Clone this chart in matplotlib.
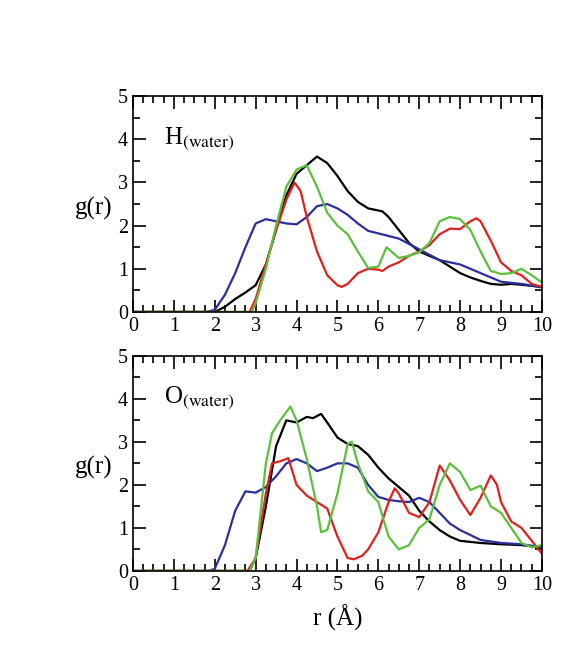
import numpy as np
import matplotlib
matplotlib.use("Agg")
import matplotlib.pyplot as plt
from matplotlib.ticker import MultipleLocator

plt.rcParams['font.family'] = ['Liberation Serif', 'DejaVu Serif']
plt.rcParams['mathtext.fontset'] = 'stix'

# --- H(water) panel ---
h_black_r = [0, 2.0, 2.25, 2.5, 2.75, 3.0, 3.25, 3.5, 3.75, 4.0, 4.25, 4.5, 4.75, 5.0, 5.25, 5.5,
             5.75, 6.0, 6.1, 6.25, 6.5, 6.75, 7.0, 7.25, 7.5, 7.75, 8.0, 8.25, 8.5, 8.75, 9.0, 9.25, 9.5, 10]
h_black_g = [0, 0, 0.12, 0.3, 0.45, 0.62, 1.1, 1.9, 2.7, 3.2, 3.4, 3.6, 3.45, 3.15, 2.8, 2.55,
             2.4, 2.35, 2.33, 2.2, 1.9, 1.6, 1.4, 1.3, 1.2, 1.05, 0.9, 0.8, 0.72, 0.65, 0.63, 0.65, 0.63, 0.58]

h_blue_r = [0, 1.8, 2.0, 2.25, 2.5, 2.75, 3.0, 3.25, 3.5, 3.75, 4.0, 4.25, 4.5, 4.75, 5.0, 5.25,
            5.5, 5.75, 6.0, 6.5, 7.0, 7.5, 8.0, 8.5, 9.0, 9.5, 10]
h_blue_g = [0, 0, 0.05, 0.4, 0.9, 1.5, 2.05, 2.15, 2.1, 2.05, 2.03, 2.2, 2.45, 2.5, 2.4, 2.25,
            2.05, 1.88, 1.82, 1.7, 1.45, 1.2, 1.1, 0.9, 0.7, 0.65, 0.57]

h_red_r = [0, 2.85, 3.0, 3.25, 3.5, 3.75, 3.95, 4.1, 4.25, 4.5, 4.75, 5.0, 5.1, 5.25, 5.5, 5.75,
           6.0, 6.1, 6.25, 6.5, 6.75, 7.0, 7.25, 7.5, 7.75, 8.0, 8.25, 8.4, 8.5, 8.75, 9.0, 9.25,
           9.5, 9.75, 10]
h_red_g = [0, 0, 0.3, 1.1, 1.9, 2.6, 3.0, 2.8, 2.2, 1.4, 0.85, 0.62, 0.58, 0.65, 0.9, 1.0,
           0.98, 0.95, 1.05, 1.15, 1.3, 1.4, 1.55, 1.8, 1.93, 1.92, 2.1, 2.17, 2.1, 1.65, 1.15, 0.95,
           0.85, 0.65, 0.58]

h_green_r = [0, 2.9, 3.0, 3.25, 3.5, 3.75, 4.0, 4.25, 4.5, 4.75, 5.0, 5.25, 5.5, 5.75, 6.0, 6.2,
             6.5, 6.75, 7.0, 7.25, 7.5, 7.75, 8.0, 8.25, 8.5, 8.75, 9.0, 9.25, 9.5, 9.75, 10]
h_green_g = [0, 0, 0.2, 1.0, 2.0, 2.9, 3.3, 3.4, 2.9, 2.3, 2.0, 1.8, 1.4, 1.02, 1.05, 1.5,
             1.25, 1.3, 1.38, 1.6, 2.1, 2.2, 2.15, 1.9, 1.4, 0.95, 0.88, 0.9, 1.0, 0.85, 0.68]

# --- O(water) panel ---
o_black_r = [0, 2.85, 3.0, 3.25, 3.5, 3.75, 4.0, 4.25, 4.4, 4.6, 4.75, 5.0, 5.25, 5.5, 5.75, 6.0,
             6.25, 6.5, 6.75, 7.0, 7.25, 7.5, 7.75, 8.0, 8.5, 9.0, 9.5, 10]
o_black_g = [0, 0, 0.3, 1.5, 2.9, 3.5, 3.45, 3.58, 3.55, 3.65, 3.45, 3.1, 2.95, 2.9, 2.7, 2.4,
             2.15, 1.95, 1.75, 1.4, 1.15, 0.95, 0.8, 0.7, 0.65, 0.62, 0.6, 0.55]

o_blue_r = [0, 1.85, 2.0, 2.25, 2.5, 2.75, 3.0, 3.25, 3.5, 3.75, 4.0, 4.25, 4.5, 4.75, 5.0, 5.25,
            5.5, 5.75, 6.0, 6.25, 6.5, 6.75, 7.0, 7.25, 7.5, 7.75, 8.0, 8.5, 9.0, 9.5, 10]
o_blue_g = [0, 0, 0.05, 0.6, 1.4, 1.85, 1.82, 1.95, 2.2, 2.5, 2.6, 2.5, 2.32, 2.4, 2.5, 2.5,
            2.4, 2.0, 1.72, 1.65, 1.62, 1.6, 1.7, 1.6, 1.35, 1.1, 0.95, 0.72, 0.65, 0.62, 0.55]

o_red_r = [0, 2.8, 3.0, 3.25, 3.4, 3.6, 3.8, 4.0, 4.25, 4.5, 4.75, 5.0, 5.25, 5.4, 5.6, 5.75,
           6.0, 6.25, 6.4, 6.5, 6.75, 7.0, 7.25, 7.5, 7.75, 8.0, 8.25, 8.5, 8.75, 8.9, 9.0, 9.25,
           9.5, 9.75, 10]
o_red_g = [0, 0, 0.3, 1.8, 2.5, 2.55, 2.62, 2.0, 1.75, 1.6, 1.45, 0.8, 0.3, 0.27, 0.35, 0.5,
           0.9, 1.6, 1.92, 1.8, 1.35, 1.25, 1.6, 2.45, 2.1, 1.65, 1.3, 1.7, 2.22, 2.0, 1.6, 1.15,
           1.0, 0.7, 0.4]

o_green_r = [0, 2.85, 3.0, 3.25, 3.4, 3.6, 3.85, 4.0, 4.25, 4.5, 4.6, 4.75, 5.0, 5.25, 5.35, 5.5,
             5.75, 6.0, 6.25, 6.5, 6.75, 7.0, 7.25, 7.5, 7.75, 8.0, 8.25, 8.5, 8.75, 9.0, 9.25,
             9.5, 9.75, 10]
o_green_g = [0, 0, 0.3, 2.5, 3.2, 3.5, 3.82, 3.5, 2.6, 1.5, 0.9, 0.95, 1.8, 2.95, 3.0, 2.5,
             1.85, 1.6, 0.8, 0.5, 0.6, 1.0, 1.2, 2.0, 2.5, 2.3, 1.88, 1.98, 1.5, 1.35, 1.0,
             0.65, 0.55, 0.6]

colors = {'black': '#000000', 'red': '#e0201c', 'green': '#5cc03c', 'blue': '#2b2f9e'}

panels = [
    (r'H$_{\rm (water)}$', [(h_black_r, h_black_g, 'black'), (h_blue_r, h_blue_g, 'blue'),
                            (h_red_r, h_red_g, 'red'), (h_green_r, h_green_g, 'green')]),
    (r'O$_{\rm (water)}$', [(o_black_r, o_black_g, 'black'), (o_blue_r, o_blue_g, 'blue'),
                            (o_red_r, o_red_g, 'red'), (o_green_r, o_green_g, 'green')]),
]

fig = plt.figure(figsize=(5.61, 6.54), dpi=100)
ax_boxes = [[0.237, 0.523, 0.729, 0.330], [0.237, 0.127, 0.729, 0.329]]

for box, (label, curves) in zip(ax_boxes, panels):
    ax = fig.add_axes(box)
    for r, g, c in curves:
        ax.plot(r, g, color=colors[c], lw=1.6)
    ax.set_xlim(0, 10)
    ax.set_ylim(0, 5)
    ax.xaxis.set_major_locator(MultipleLocator(1))
    ax.xaxis.set_minor_locator(MultipleLocator(0.25))
    ax.yaxis.set_major_locator(MultipleLocator(1))
    ax.yaxis.set_minor_locator(MultipleLocator(0.5))
    ax.tick_params(which='both', direction='in', top=True, right=True, labelsize=14.5, width=1.2)
    ax.tick_params(which='major', length=9)
    ax.tick_params(which='minor', length=5)
    for s in ax.spines.values():
        s.set_linewidth(1.2)
    # horizontal y label, left of the tick labels
    ax.text(-0.05, 0.48, 'g(r)', transform=ax.transAxes, ha='right', va='center', fontsize=18)
    ax.text(0.75, 3.9, label, fontsize=18, va='baseline')

ax.set_xlabel('r (Å)', fontsize=18, labelpad=7)

fig.savefig('out.png', dpi=100)
